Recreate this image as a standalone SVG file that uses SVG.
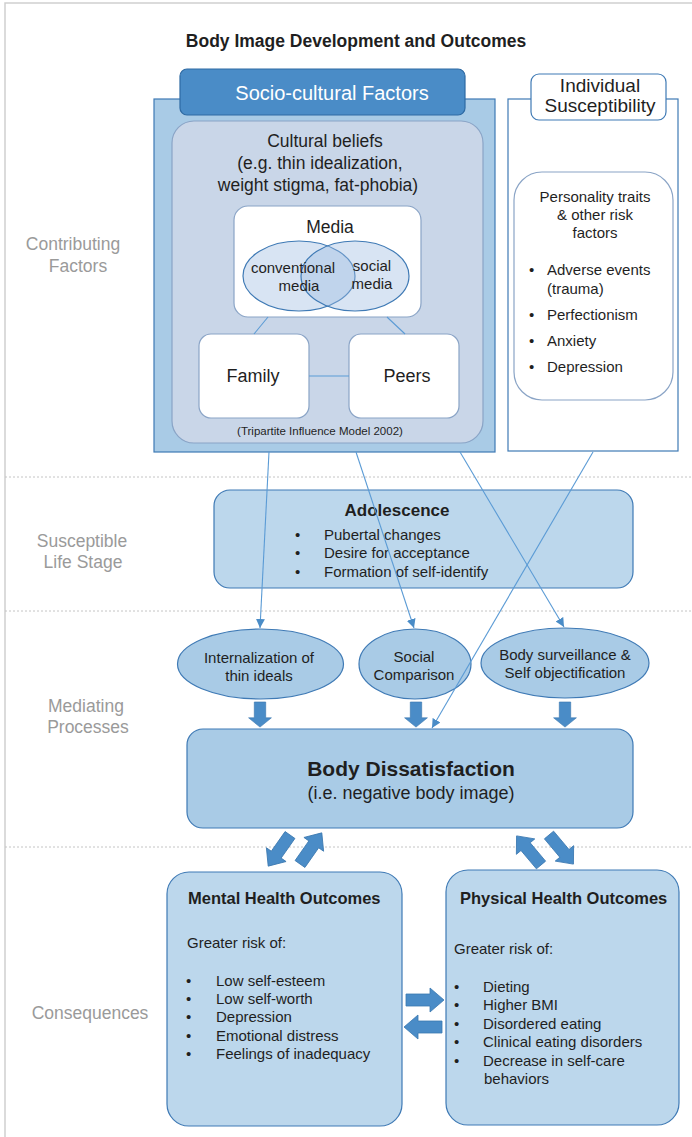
<svg xmlns="http://www.w3.org/2000/svg" width="692" height="1137" viewBox="0 0 692 1137">
  <style>
    text { font-family: "Liberation Sans", Arial, Helvetica, sans-serif; fill: #1f1f1f; }
    .c { text-anchor: middle; }
    .stage { fill: #9a9a9a; font-size: 17.5px; text-anchor: middle; }
    .sep { stroke: #c4c4c4; stroke-width: 1; stroke-dasharray: 2 2; fill: none; }
    .blue { fill: #a9cbe6; stroke: #3f7ab5; stroke-width: 1.2; }
    .lightblue { fill: #bcd7ec; stroke: #3f7ab5; stroke-width: 1.2; }
    .inner { fill: #c9d6e8; stroke: #8aa4c6; stroke-width: 1.2; }
    .white { fill: #ffffff; stroke: #8aa4c6; stroke-width: 1.2; }
    .whiteb { fill: #ffffff; stroke: #3f7ab5; stroke-width: 1.2; }
    .venn { fill: #9dbbe0; fill-opacity: 0.4; stroke: #3f7ab5; stroke-width: 1.2; }
    .link { stroke: #5b9bd5; stroke-width: 1.1; fill: none; }
    .block { fill: #4a8cc7; stroke: #3b78b0; stroke-width: 0.8; }
    .t15 { font-size: 15px; }
  </style>
  <defs>
    <marker id="tip" viewBox="0 0 10 10" refX="10" refY="5" markerWidth="9" markerHeight="9" markerUnits="userSpaceOnUse" orient="auto">
      <path d="M0,0 L10,5 L0,10 Z" fill="#4a8cc7"/>
    </marker>
    <!-- block arrow pointing along +x, tail at origin -->
    <path id="blk" d="M0,-6 L24,-6 L24,-12 L38,0 L24,12 L24,6 L0,6 Z"/>
  </defs>

  <!-- page frame -->
  <path d="M5,1137 L5,3 L692,3" fill="none" stroke="#cfcfcf" stroke-width="1.5"/>

  <text x="356" y="47" class="c" font-size="17.5" font-weight="bold">Body Image Development and Outcomes</text>

  <!-- stage separators -->
  <line class="sep" x1="5" y1="477" x2="692" y2="477"/>
  <line class="sep" x1="5" y1="611" x2="692" y2="611"/>
  <line class="sep" x1="5" y1="847" x2="692" y2="847"/>

  <!-- stage labels -->
  <g id="stage-labels">
    <text class="stage" x="73" y="250">Contributing</text>
    <text class="stage" x="78" y="272">Factors</text>
    <text class="stage" x="82" y="547">Susceptible</text>
    <text class="stage" x="83" y="568">Life Stage</text>
    <text class="stage" x="86" y="712">Mediating</text>
    <text class="stage" x="88" y="733">Processes</text>
    <text class="stage" x="90" y="1019">Consequences</text>
  </g>

  <!-- socio-cultural factors -->
  <g id="sociocultural">
    <rect class="blue" x="154" y="99" width="341" height="353"/>
    <rect class="inner" x="172" y="121" width="311" height="322" rx="22"/>
    <rect x="180" y="69" width="285" height="46" rx="7" fill="#4a8cc7" stroke="#2e6aa3" stroke-width="1.2"/>
    <text x="332" y="100" class="c" font-size="20" style="fill:#ffffff">Socio-cultural Factors</text>
    <text x="325" y="147" class="c" font-size="17.5">Cultural beliefs</text>
    <text x="320" y="169" class="c" font-size="17.5">(e.g. thin idealization,</text>
    <text x="318" y="191" class="c" font-size="17.5">weight stigma, fat-phobia)</text>
    <text x="320" y="435" class="c" font-size="11.5">(Tripartite Influence Model 2002)</text>
  </g>

  <g id="media">
    <rect class="white" x="234" y="206" width="187" height="111" rx="14"/>
    <text x="330" y="233" class="c" font-size="17.5">Media</text>
    <ellipse class="venn" cx="299" cy="276" rx="56" ry="35"/>
    <ellipse class="venn" cx="355" cy="276" rx="54" ry="35"/>
    <text x="293" y="273" class="c t15">conventional</text>
    <text x="299" y="291" class="c t15">media</text>
    <text x="372" y="271" class="c t15">social</text>
    <text x="372" y="289" class="c t15">media</text>
  </g>

  <g id="family">
    <rect class="white" x="199" y="334" width="110" height="84" rx="12"/>
    <text x="253" y="382" class="c" font-size="18">Family</text>
  </g>

  <g id="peers">
    <rect class="white" x="349" y="334" width="110" height="84" rx="12"/>
    <text x="407" y="382" class="c" font-size="18">Peers</text>
  </g>

  <!-- individual susceptibility -->
  <g id="individual">
    <rect class="whiteb" x="508" y="99" width="170" height="352"/>
    <rect class="whiteb" x="531" y="74" width="135" height="46" rx="8"/>
    <text x="600" y="92" class="c" font-size="19">Individual</text>
    <text x="600" y="112" class="c" font-size="19">Susceptibility</text>
    <rect class="white" x="514" y="172" width="159" height="228" rx="28"/>
    <text x="595" y="202" class="c t15">Personality traits</text>
    <text x="595" y="220" class="c t15">&amp; other risk</text>
    <text x="595" y="238" class="c t15">factors</text>
    <g class="t15">
      <text x="529" y="275">•</text><text x="547" y="275">Adverse events</text>
      <text x="547" y="294">(trauma)</text>
      <text x="529" y="320">•</text><text x="547" y="320">Perfectionism</text>
      <text x="529" y="346">•</text><text x="547" y="346">Anxiety</text>
      <text x="529" y="372">•</text><text x="547" y="372">Depression</text>
    </g>
  </g>

  <!-- adolescence -->
  <g id="adolescence">
    <rect class="lightblue" x="214" y="490" width="419" height="98" rx="16"/>
    <text x="397" y="516" class="c" font-size="17" font-weight="bold">Adolescence</text>
    <g class="t15">
      <text x="295" y="540">•</text><text x="324" y="540">Pubertal changes</text>
      <text x="295" y="558">•</text><text x="324" y="558">Desire for acceptance</text>
      <text x="295" y="577">•</text><text x="324" y="577">Formation of self-identify</text>
    </g>
  </g>

  <!-- mediating processes -->
  <g id="internalization">
    <ellipse class="blue" cx="260.5" cy="664" rx="83" ry="35"/>
    <text x="259" y="663" class="c t15">Internalization of</text>
    <text x="259" y="681" class="c t15">thin ideals</text>
  </g>
  <g id="social-comparison">
    <ellipse class="blue" cx="415" cy="664" rx="56" ry="35"/>
    <text x="414" y="662" class="c t15">Social</text>
    <text x="414" y="680" class="c t15">Comparison</text>
  </g>
  <g id="surveillance">
    <ellipse class="blue" cx="565" cy="663" rx="84" ry="35"/>
    <text x="565" y="660" class="c t15">Body surveillance &amp;</text>
    <text x="565" y="678" class="c t15">Self objectification</text>
  </g>

  <!-- body dissatisfaction -->
  <g id="body-dissatisfaction">
    <rect class="blue" x="187" y="729" width="446" height="99" rx="16"/>
    <text x="411" y="776" class="c" font-size="21" font-weight="bold">Body Dissatisfaction</text>
    <text x="411" y="799" class="c" font-size="18">(i.e. negative body image)</text>
  </g>

  <!-- consequences -->
  <g id="mental-health">
    <rect class="lightblue" x="167" y="872" width="235" height="254" rx="22"/>
    <text x="188" y="904" font-size="16.5" font-weight="bold">Mental Health Outcomes</text>
    <text x="187" y="948" class="t15">Greater risk of:</text>
    <g class="t15">
      <text x="186" y="986">•</text><text x="216" y="986">Low self-esteem</text>
      <text x="186" y="1004">•</text><text x="216" y="1004">Low self-worth</text>
      <text x="186" y="1022">•</text><text x="216" y="1022">Depression</text>
      <text x="186" y="1041">•</text><text x="216" y="1041">Emotional distress</text>
      <text x="186" y="1059">•</text><text x="216" y="1059">Feelings of inadequacy</text>
    </g>
  </g>

  <g id="physical-health">
    <rect class="lightblue" x="446" y="870" width="233" height="255" rx="22"/>
    <text x="460" y="904" font-size="16.5" font-weight="bold">Physical Health Outcomes</text>
    <text x="454" y="954" class="t15">Greater risk of:</text>
    <g class="t15">
      <text x="454" y="992">•</text><text x="483" y="992">Dieting</text>
      <text x="454" y="1010">•</text><text x="483" y="1010">Higher BMI</text>
      <text x="454" y="1029">•</text><text x="483" y="1029">Disordered eating</text>
      <text x="454" y="1047">•</text><text x="483" y="1047">Clinical eating disorders</text>
      <text x="454" y="1066">•</text><text x="483" y="1066">Decrease in self-care</text>
      <text x="484" y="1084">behaviors</text>
    </g>
  </g>

  <!-- connectors -->
  <g id="connectors">
    <line class="link" x1="268" y1="317" x2="254" y2="334"/>
    <line class="link" x1="387" y1="317" x2="405" y2="334"/>
    <line class="link" x1="309" y1="376" x2="349" y2="376"/>

    <line class="link" x1="269" y1="452" x2="260" y2="628" marker-end="url(#tip)"/>
    <line class="link" x1="356" y1="452" x2="414" y2="628" marker-end="url(#tip)"/>
    <line class="link" x1="460" y1="452" x2="564" y2="627" marker-end="url(#tip)"/>
    <line class="link" x1="593" y1="452" x2="432" y2="728" marker-end="url(#tip)"/>

    <!-- mediators into body dissatisfaction -->
    <use href="#blk" class="block" transform="translate(260,702) rotate(90) scale(0.66,0.95)"/>
    <use href="#blk" class="block" transform="translate(416,702) rotate(90) scale(0.66,0.95)"/>
    <use href="#blk" class="block" transform="translate(565,702) rotate(90) scale(0.66,0.95)"/>

    <!-- body dissatisfaction <-> outcomes -->
    <use href="#blk" class="block" transform="translate(290,835) rotate(125)"/>
    <use href="#blk" class="block" transform="translate(300,864) rotate(-55)"/>
    <use href="#blk" class="block" transform="translate(541,865) rotate(-130)"/>
    <use href="#blk" class="block" transform="translate(549,835) rotate(50)"/>

    <!-- mental <-> physical -->
    <use href="#blk" class="block" transform="translate(406,1000)"/>
    <use href="#blk" class="block" transform="translate(442,1027) rotate(180)"/>
  </g>
</svg>
